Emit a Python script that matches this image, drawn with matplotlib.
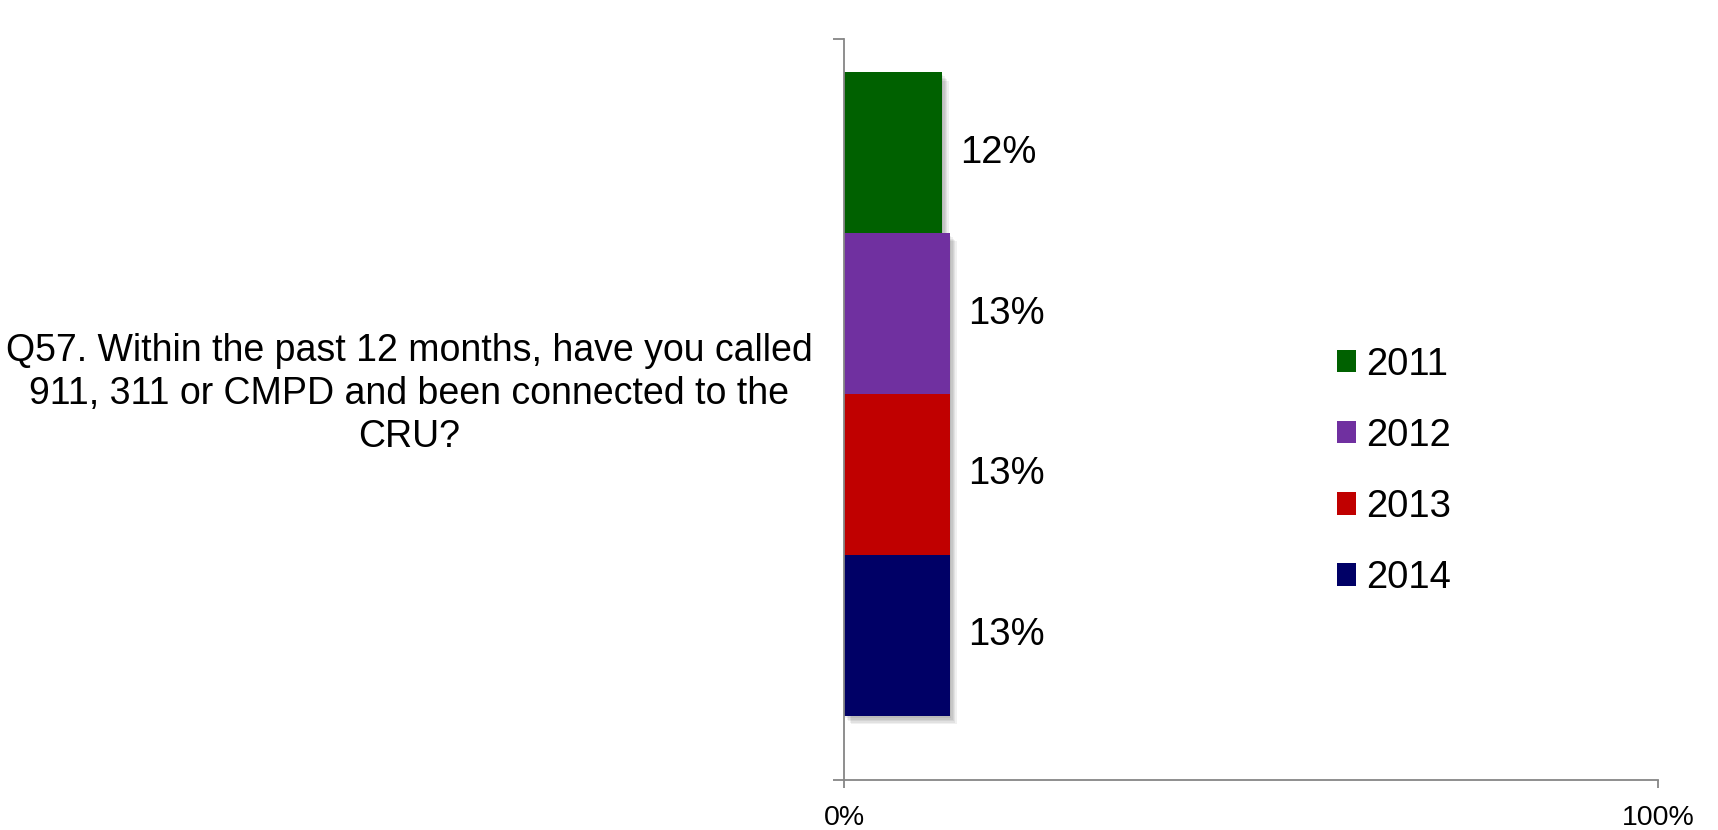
import matplotlib
matplotlib.use("Agg")
import matplotlib.pyplot as plt
from matplotlib.patches import Patch
import matplotlib.patheffects as pe
import matplotlib.transforms as mtransforms

# Survey question and yearly share of "yes" answers
category = "Q57. Within the past 12 months, have you called\n911, 311 or CMPD and been connected to the\nCRU?"
years = ["2011", "2012", "2013", "2014"]
values = [0.12, 0.13, 0.13, 0.13]
value_labels = ["12%", "13%", "13%", "13%"]
colors = ["#006100", "#7030A0", "#C00000", "#000066"]
x_ticks = [0, 1]
x_tick_labels = ["0%", "100%"]

plt.rcParams["font.family"] = ["Liberation Sans", "DejaVu Sans"]
axis_color = "#868686"

fig = plt.figure(figsize=(17.18, 8.30), dpi=100)
ax = fig.add_axes([0.4913, 0.0602, 0.4738, 0.8928])

# Bars stacked top to bottom within the single category band
n = len(years)
positions = [(n - 1) / 2 - i for i in range(n)]

# Soft drop shadow built from several faint offset copies
shadow = [pe.SimplePatchShadow(offset=(dx, -dy), shadow_rgbFace="black", alpha=0.06)
          for dx, dy in [(1, 2), (2, 3), (3, 4), (4, 5), (5, 6)]]

bars = ax.barh(positions, values, height=1.0, color=colors, edgecolor="none")
for b in bars:
    b.set_path_effects(shadow + [pe.Normal()])

for y, v, lab in zip(positions, values, value_labels):
    ax.annotate(lab, (v, y), xytext=(13, 0), textcoords="offset points",
                ha="left", va="center", fontsize=27.5, color="black")

ax.set_xlim(0, 1)
ax.set_ylim(-2.4, 2.207)

ax.set_xticks(x_ticks)
ax.set_xticklabels(x_tick_labels, fontsize=20.5)
ax.tick_params(axis="x", direction="out", length=6, width=1.3, color=axis_color, pad=12)

ax.set_yticks([])
ax.set_yticks([-2.4, 2.207], minor=True)
ax.tick_params(axis="y", which="minor", direction="out", length=8, width=1.3, color=axis_color)

for side in ["top", "right"]:
    ax.spines[side].set_visible(False)
for side in ["left", "bottom"]:
    ax.spines[side].set_color(axis_color)
    ax.spines[side].set_linewidth(1.3)

# Category label to the left of the axis
trans = mtransforms.blended_transform_factory(ax.transAxes, ax.transData)
ax.text(-0.534, 0, category, transform=trans, ha="center", va="center",
        multialignment="center", fontsize=27, linespacing=1.26)

handles = [Patch(facecolor=c, edgecolor="none") for c in colors]
fig.legend(handles, years, loc="center left", bbox_to_anchor=(0.778, 0.432),
           frameon=False, fontsize=27.5, handlelength=0.52, handleheight=0.52,
           handletextpad=0.24, labelspacing=0.92, borderpad=0, borderaxespad=0)

fig.savefig("out.png", dpi=100)
